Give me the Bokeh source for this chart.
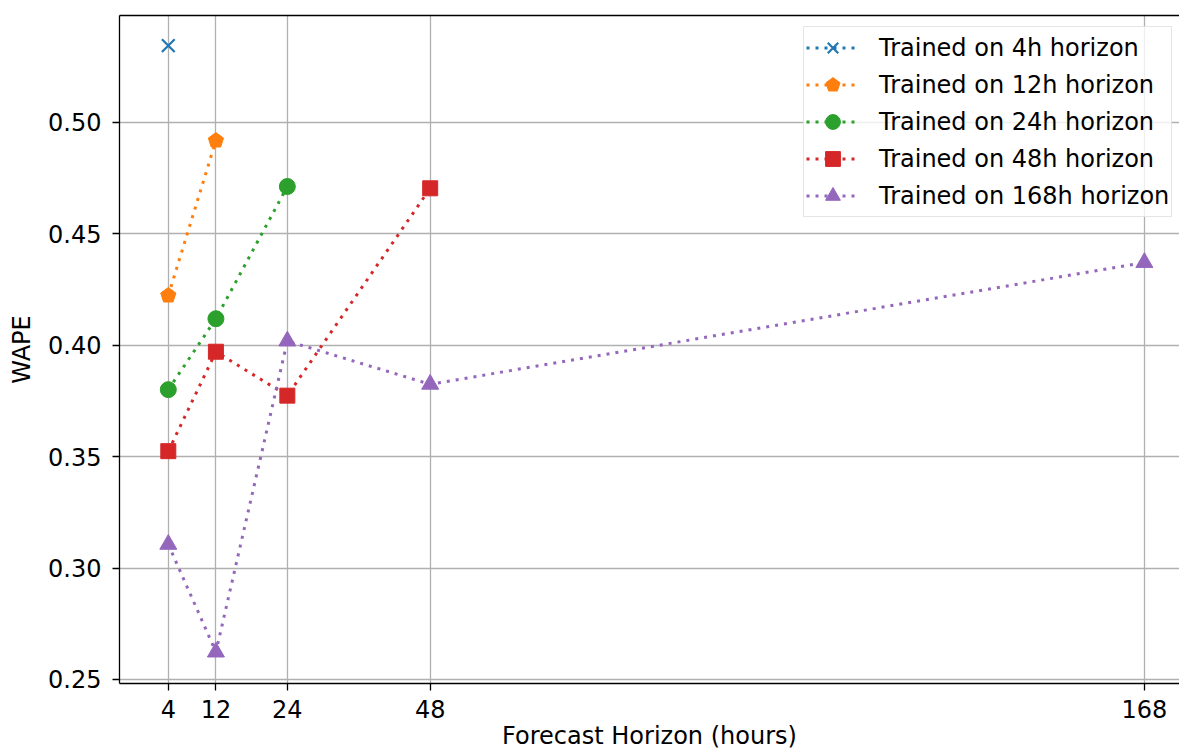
from bokeh.plotting import figure
from bokeh.models import Range1d, FixedTicker, LinearAxis, Legend, LegendItem, ColumnDataSource
from bokeh.embed import file_html
from bokeh.resources import INLINE

# ---- data ----
horizons = [4, 12, 24, 48, 168]
tick_labels = {4: "4", 12: "12", 24: "24", 48: "48", 168: "168"}
y_ticks = [0.25, 0.30, 0.35, 0.40, 0.45, 0.50]

labels = ["Trained on 4h horizon", "Trained on 12h horizon", "Trained on 24h horizon",
          "Trained on 48h horizon", "Trained on 168h horizon"]
wape_4h = [0.5343]
wape_12h = [0.4222, 0.4917]
wape_24h = [0.3800, 0.4118, 0.4711]
wape_48h = [0.3524, 0.3970, 0.3773, 0.4703]
wape_168h = [0.3106, 0.2623, 0.4018, 0.3824, 0.4370]
series = [wape_4h, wape_12h, wape_24h, wape_48h, wape_168h]
colors = ["#1f77b4", "#ff7f0e", "#2ca02c", "#d62728", "#9467bd"]
markers = ["x", "pentagon", "circle", "square", "triangle"]

FONT = "DejaVu Sans"
FS = "24px"

p = figure(width=1179, height=756, output_backend="svg", toolbar_location=None,
           x_range=Range1d(-4.2, 173.9), y_range=Range1d(0.2482, 0.5478),
           min_border_left=119, min_border_top=15, min_border_right=0, min_border_bottom=73,
           background_fill_color="white", border_fill_color="white")
p.outline_line_color = None

# axes
for ax in (p.xaxis[0], p.yaxis[0]):
    ax.axis_line_color = "black"
    ax.axis_line_width = 1.3
    ax.major_tick_line_color = "black"
    ax.major_tick_line_width = 1.3
    ax.major_tick_in = 0
    ax.major_tick_out = 7
    ax.minor_tick_line_color = None
    ax.major_label_text_font = FONT
    ax.major_label_text_font_size = FS
    ax.major_label_text_color = "black"
    ax.axis_label_text_font = FONT
    ax.axis_label_text_font_size = FS
    ax.axis_label_text_font_style = "normal"
    ax.axis_label_text_color = "black"

p.xaxis.ticker = FixedTicker(ticks=horizons)
p.xaxis.major_label_overrides = tick_labels
p.xaxis.axis_label = "Forecast Horizon (hours)"
p.xaxis.major_label_standoff = 9
p.xaxis.axis_label_standoff = 1

p.yaxis.ticker = FixedTicker(ticks=y_ticks)
p.yaxis.major_label_overrides = {t: f"{t:.2f}" for t in y_ticks}
p.yaxis.axis_label = "WAPE"
p.yaxis.major_label_standoff = 11
p.yaxis.axis_label_standoff = 9

# top spine
top = LinearAxis(ticker=FixedTicker(ticks=[]), axis_line_color="black", axis_line_width=1.3,
                 major_tick_line_color=None, minor_tick_line_color=None,
                 major_label_text_font_size="0px")
p.add_layout(top, "above")

# grid
p.xgrid.ticker = FixedTicker(ticks=horizons)
p.ygrid.ticker = FixedTicker(ticks=y_ticks)
for g in (p.xgrid[0], p.ygrid[0]):
    g.grid_line_color = "#b0b0b0"
    g.grid_line_width = 1.3

items = []
for i, (lab, vals, col, mk) in enumerate(zip(labels, series, colors, markers)):
    xs = horizons[:len(vals)]
    src = ColumnDataSource(dict(x=xs, y=vals))
    lr = p.line("x", "y", source=src, line_color=col, line_width=3, line_dash="3 6", line_cap="butt")
    if mk == "pentagon":
        mr = p.ngon(x="x", y="y", source=src, radius=8, radius_units="screen", n=5,
                    angle=0, fill_color=col, line_color=col)
    elif mk == "x":
        mr = p.scatter("x", "y", source=src, marker="x", size=18, line_color=col, line_width=2.2)
    elif mk == "circle":
        mr = p.scatter("x", "y", source=src, marker="circle", size=16, fill_color=col, line_color=col)
    elif mk == "square":
        mr = p.scatter("x", "y", source=src, marker="square", size=15, fill_color=col, line_color=col)
    else:
        mr = p.scatter("x", "y", source=src, marker="triangle", size=17, fill_color=col, line_color=col)
    items.append(LegendItem(label=lab, renderers=[lr, mr]))

legend = Legend(items=items, location=(684, 466), margin=0, padding=2, spacing=0,
                glyph_width=53, glyph_height=37, label_height=37, label_standoff=20,
                label_text_font=FONT, label_text_font_size=FS, label_text_color="black",
                border_line_color="#cccccc", border_line_width=1.3,
                background_fill_color="white", background_fill_alpha=0.8)
p.add_layout(legend, "center")

open("out.html", "w").write(file_html(p, INLINE))
